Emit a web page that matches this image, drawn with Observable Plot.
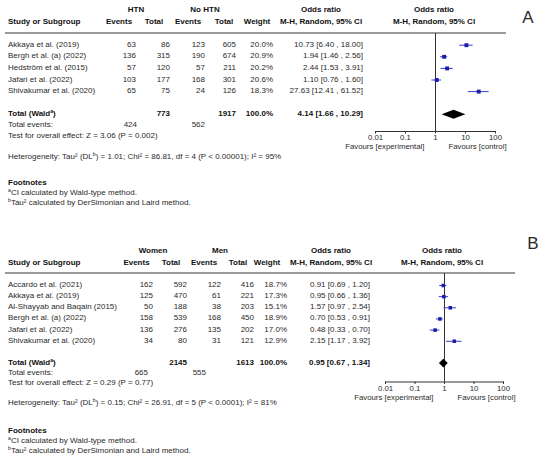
<!DOCTYPE html>
<html>
<head>
<meta charset="utf-8">
<script src="https://cdn.jsdelivr.net/npm/d3@7"></script>
<script src="https://cdn.jsdelivr.net/npm/@observablehq/plot@0.6"></script>
<style>
  body { margin: 0; background: #fff; }
  #root { position: relative; width: 550px; height: 464px; background: #fff; overflow: hidden;
          font-family: "Liberation Sans", Arial, sans-serif; }
  .t { position: absolute; white-space: nowrap; line-height: 1; font-size: 8px; color: #2a2a2a; }
  .t sup { font-size: 0.65em; line-height: 0; vertical-align: 0.5em; }
  .b { font-weight: bold; color: #111; }
  .sep { position: absolute; height: 2px; background: #9a9a9a; }
  svg.plot { position: absolute; left: 0; }
</style>
</head>
<body>
<div id="root"></div>
<script>
// ---------- Panel A data ----------
const studiesA = ["Akkaya et al. (2019)", "Bergh et al. (a) (2022)", "Hedström et al. (2015)", "Jafari et al. (2022)", "Shivakumar et al. (2020)"];
const htnEvents = [63, 136, 57, 103, 65];
const htnTotal = [86, 315, 120, 177, 75];
const noHtnEvents = [123, 190, 57, 168, 24];
const noHtnTotal = [605, 674, 211, 301, 126];
const weightA = [20.0, 20.9, 20.2, 20.6, 18.3];
const orA = [10.73, 1.94, 2.44, 1.10, 27.63];
const loA = [6.40, 1.46, 1.53, 0.76, 12.41];
const hiA = [18.00, 2.56, 3.91, 1.60, 61.52];
const totalA = {or: 4.14, lo: 1.66, hi: 10.29, n1: 773, n2: 1917, e1: 424, e2: 562};
const testA = "Test for overall effect: Z = 3.06 (P = 0.002)";
const hetA = "Heterogeneity: Tau² (DL<sup>b</sup>) = 1.01; Chi² = 86.81, df = 4 (P &lt; 0.00001); I² = 95%";

// ---------- Panel B data ----------
const studiesB = ["Accardo et al. (2021)", "Akkaya et al. (2019)", "Al-Shayyab and Baqain (2015)", "Bergh et al. (a) (2022)", "Jafari et al. (2022)", "Shivakumar et al. (2020)"];
const womenEvents = [162, 125, 50, 158, 136, 34];
const womenTotal = [592, 470, 188, 539, 276, 80];
const menEvents = [122, 61, 38, 168, 135, 31];
const menTotal = [416, 221, 203, 450, 202, 121];
const weightB = [18.7, 17.3, 15.1, 18.9, 17.0, 12.9];
const orB = [0.91, 0.95, 1.57, 0.70, 0.48, 2.15];
const loB = [0.69, 0.66, 0.97, 0.53, 0.33, 1.17];
const hiB = [1.20, 1.36, 2.54, 0.91, 0.70, 3.92];
const totalB = {or: 0.95, lo: 0.67, hi: 1.34, n1: 2145, n2: 1613, e1: 665, e2: 555};
const testB = "Test for overall effect: Z = 0.29 (P = 0.77)";
const hetB = "Heterogeneity: Tau² (DL<sup>b</sup>) = 0.15; Chi² = 26.91, df = 5 (P &lt; 0.0001); I² = 81%";

const axisTicks = [0.01, 0.1, 1, 10, 100];
const footnoteA = "<sup>a</sup>CI calculated by Wald-type method.";
const footnoteB = "<sup>b</sup>Tau² calculated by DerSimonian and Laird method.";

const root = document.getElementById("root");
function put(html, x, y, align = "left", cls = "", size = null) {
  const s = document.createElement("span");
  s.className = "t " + cls;
  s.innerHTML = html;
  s.style.left = x + "px";
  s.style.top = y + "px";
  if (size) s.style.fontSize = size + "px";
  const tx = align === "right" ? "-100%" : align === "center" ? "-50%" : "0";
  s.style.transform = `translate(${tx}, -50%)`;
  root.appendChild(s);
}
function sep(x1, x2, y) {
  const d = document.createElement("div");
  d.className = "sep";
  d.style.left = x1 + "px"; d.style.width = (x2 - x1) + "px"; d.style.top = (y - 1) + "px";
  root.appendChild(d);
}
const fmtOR = (o, l, h) => `${o.toFixed(2)} [${l.toFixed(2)} , ${h.toFixed(2)}]`;

function panel(cfg) {
  const {top, grp1, grp2, studies, e1, n1, e2, n2, w, or, lo, hi, total, test, het, label, L, rowY0, step, totalIdx} = cfg;
  // headers
  put(grp1, L.g1, top + L.hy1, "center", "b");
  put(grp2, L.g2, top + L.hy1, "center", "b");
  put("Odds ratio", L.orh, top + L.hy1, "center", "b");
  put("Odds ratio", L.orh2, top + L.hy1, "center", "b");
  put("Study or Subgroup", 8, top + L.hy2, "left", "b");
  put("Events", L.he1, top + L.hy2, "center", "b");
  put("Total", L.hn1, top + L.hy2, "center", "b");
  put("Events", L.he2, top + L.hy2, "center", "b");
  put("Total", L.hn2, top + L.hy2, "center", "b");
  put("Weight", L.hw, top + L.hy2, "center", "b");
  put("M-H, Random, 95% CI", L.orh, top + L.hy2, "center", "b");
  put("M-H, Random, 95% CI", L.orh2, top + L.hy2, "center", "b");
  put(label, L.lx, top + L.ly, "center", "", 17);
  sep(5, L.sepEnd, top + 33);
  // rows
  studies.forEach((s, i) => {
    const y = top + rowY0 + step * i;
    put(s, 8, y);
    put(e1[i], L.ce1, y, "right");
    put(n1[i], L.cn1, y, "right");
    put(e2[i], L.ce2, y, "right");
    put(n2[i], L.cn2, y, "right");
    put(w[i].toFixed(1) + "%", L.cw, y, "right");
    put(fmtOR(or[i], lo[i], hi[i]), L.cor, y, "right");
  });
  const ty = top + rowY0 + step * totalIdx;
  put("Total (Wald<sup>a</sup>)", 8, ty, "left", "b");
  put(total.n1, L.cn1, ty, "right", "b");
  put(total.n2, L.cn2, ty, "right", "b");
  put("100.0%", L.cw, ty, "right", "b");
  put(fmtOR(total.or, total.lo, total.hi), L.cor, ty, "right", "b");
  put("Total events:", 8, top + L.evY);
  put(total.e1, L.tev1, top + L.evY, "right");
  put(total.e2, L.tev2, top + L.evY, "right");
  put(test, 8, top + L.testY);
  put(het, 8, top + L.hetY);
  put("Footnotes", 8, top + L.fnY, "left", "b");
  put(footnoteA, 8, top + L.fnY + 10);
  put(footnoteB, 8, top + L.fnY + 20);

  // forest plot
  const rows = studies.map((s, i) => ({s, i, or: or[i], lo: lo[i], hi: hi[i]}));
  const d = 0.39;
  const diamond = [
    {y: totalIdx - d, x1: total.or, x2: total.or},
    {y: totalIdx, x1: total.lo, x2: total.hi},
    {y: totalIdx + d, x1: total.or, x2: total.or}
  ];
  const blue = "#1c1ca8";
  const chart = Plot.plot({
    width: 550,
    height: L.svgH,
    marginTop: 33,
    marginBottom: L.svgH - L.axisY,
    marginLeft: L.x0,
    marginRight: 550 - L.x1,
    style: {fontFamily: "Liberation Sans, Arial, sans-serif", fontSize: "8px", background: "transparent", color: "#2a2a2a", overflow: "visible"},
    x: {type: "log", domain: [0.01, 100]},
    y: {type: "linear", domain: [0, totalIdx], range: [rowY0, rowY0 + step * totalIdx], axis: null},
    marks: [
      Plot.ruleX([1], {stroke: "#333", strokeWidth: 1}),
      Plot.frame({anchor: "bottom", stroke: "#333"}),
      Plot.axisX({ticks: axisTicks, tickFormat: v => String(v), tickSize: 2.5, tickPadding: 0.5, fontSize: 7.8, stroke: "#333"}),
      Plot.ruleY(rows, {y: "i", x1: "lo", x2: "hi", stroke: "#3a3ad0", strokeWidth: 1}),
      Plot.dot(rows, {x: "or", y: "i", symbol: "square", r: L.r, fill: blue, stroke: "none"}),
      Plot.areaX(diamond, {y: "y", x1: "x1", x2: "x2", fill: "#000", curve: "linear"}),
      Plot.text(["Favours [experimental]"], {x: 1, frameAnchor: "bottom", dx: -11, dy: L.favDy, textAnchor: "end", fontSize: 7.8, fill: "#2a2a2a"}),
      Plot.text(["Favours [control]"], {x: 1, frameAnchor: "bottom", dx: 13, dy: L.favDy, textAnchor: "start", fontSize: 7.8, fill: "#2a2a2a"})
    ]
  });
  chart.classList.add("plot");
  chart.style.top = top + "px";
  root.appendChild(chart);
}

panel({
  top: 0, grp1: "HTN", grp2: "No HTN", label: "A",
  studies: studiesA, e1: htnEvents, n1: htnTotal, e2: noHtnEvents, n2: noHtnTotal, w: weightA,
  or: orA, lo: loA, hi: hiA, total: totalA, test: testA, het: hetA,
  rowY0: 44.7, step: 11.6, totalIdx: 6,
  L: {hy1: 10, hy2: 22, g1: 136, g2: 205, he1: 119, hn1: 154, he2: 188, hn2: 224, hw: 257, orh: 321, orh2: 434,
      lx: 528, ly: 17, sepEnd: 506,
      ce1: 136, cn1: 170, ce2: 205, cn2: 236, cw: 273, cor: 363,
      evY: 125, tev1: 137, tev2: 205, testY: 136, hetY: 157, fnY: 183,
      svgH: 160, axisY: 131, x0: 375, x1: 495, favDy: 17, r: 2.2}
});

panel({
  top: 240, grp1: "Women", grp2: "Men", label: "B",
  studies: studiesB, e1: womenEvents, n1: womenTotal, e2: menEvents, n2: menTotal, w: weightB,
  or: orB, lo: loB, hi: hiB, total: totalB, test: testB, het: hetB,
  rowY0: 45, step: 11.15, totalIdx: 7,
  L: {hy1: 11, hy2: 23, g1: 153, g2: 220, he1: 136.5, hn1: 171, he2: 204, hn2: 238, hw: 267, orh: 331, orh2: 442,
      lx: 533, ly: 3, sepEnd: 515,
      ce1: 153, cn1: 187, ce2: 221, cn2: 254, cw: 287, cor: 370,
      evY: 133, tev1: 148, tev2: 206, testY: 143, hetY: 163, fnY: 191,
      svgH: 170, axisY: 141.5, x0: 385, x1: 503, favDy: 18, r: 2}
});
</script>
</body>
</html>
